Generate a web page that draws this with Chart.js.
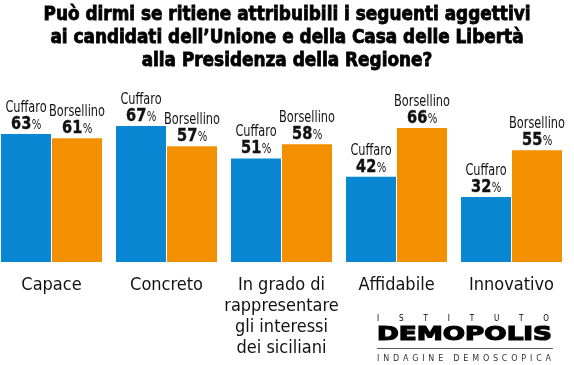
<!DOCTYPE html>
<html>
<head>
<meta charset="utf-8">
<script src="https://cdn.jsdelivr.net/npm/chart.js@4.4.1/dist/chart.umd.min.js"></script>
<style>
  html, body { margin: 0; padding: 0; background: #fff; overflow: hidden; }
  #wrap { position: absolute; left: -6px; top: 0; width: 580px; height: 365px; }
</style>
</head>
<body>
<div id="wrap"><canvas id="chart" width="580" height="365"></canvas></div>
<script>
const $ = document;

const categories = [
  "Capace",
  "Concreto",
  ["In grado di", "rappresentare", "gli interessi", "dei siciliani"],
  "Affidabile",
  "Innovativo",
];
const seriesNames = ["Cuffaro", "Borsellino"];
const cuffaroValues = [63, 67, 51, 42, 32];
const borsellinoValues = [61, 57, 58, 66, 55];
const titleLines = [
  "Può dirmi se ritiene attribuibili i seguenti aggettivi",
  "ai candidati dell’Unione e della Casa delle Libertà",
  "alla Presidenza della Regione?",
];

const NARROW = '"DejaVu Sans Condensed", "Liberation Sans Narrow", sans-serif';
const BLUE = "#0a87d2";
const ORANGE = "#f39000";

// spread characters evenly between x0 and x1
function spacedText(ctx, text, x0, x1, y) {
  const chars = text.split("");
  let total = 0;
  chars.forEach((c) => (total += ctx.measureText(c).width));
  const gap = (x1 - x0 - total) / (chars.length - 1);
  let x = x0;
  chars.forEach((c) => {
    ctx.fillText(c, x, y);
    x += ctx.measureText(c).width + gap;
  });
}

// text squeezed horizontally, centred on x
function narrowText(ctx, text, x, y, sx, stroke) {
  ctx.save();
  ctx.translate(x, y);
  ctx.scale(sx, 1);
  ctx.textAlign = "center";
  ctx.fillText(text, 0, 0);
  if (stroke) ctx.strokeText(text, 0, 0);
  ctx.restore();
}

const decorations = {
  id: "decorations",
  afterDatasetsDraw(chart) {
    const ctx = chart.ctx;
    ctx.save();
    ctx.fillStyle = "#111";
    ctx.strokeStyle = "#111";
    ctx.lineWidth = 0.4;
    ctx.textBaseline = "alphabetic";
    chart.data.datasets.forEach((ds, di) => {
      const meta = chart.getDatasetMeta(di);
      meta.data.forEach((bar, i) => {
        const x = bar.x;
        const top = bar.y;
        ctx.font = "15px " + NARROW;
        narrowText(ctx, ds.label, x, top - 22, 0.84);
        const num = String(ds.data[i]);
        ctx.font = "bold 17px " + NARROW;
        const w1 = ctx.measureText(num).width * 0.95;
        ctx.font = "14px " + NARROW;
        const w2 = ctx.measureText("%").width * 0.8;
        const start = x - (w1 + w2) / 2;
        ctx.font = "bold 17px " + NARROW;
        narrowText(ctx, num, start + w1 / 2, top - 5, 0.95, true);
        ctx.font = "14px " + NARROW;
        narrowText(ctx, "%", start + w1 + 0.5 + w2 / 2, top - 5, 0.8);
      });
    });
    ctx.restore();
  },
  afterDraw(chart) {
    const ctx = chart.ctx;
    const ox = 6; // canvas is shifted left by 6px
    ctx.save();
    // title
    ctx.fillStyle = "#000";
    ctx.strokeStyle = "#000";
    ctx.lineWidth = 0.8;
    ctx.textBaseline = "alphabetic";
    ctx.font = "bold 20px " + NARROW;
    const sx = 487 / ctx.measureText(titleLines[0]).width;
    titleLines.forEach((line, i) => {
      narrowText(ctx, line, 287 + ox, 20 + i * 23, sx, true);
    });
    // logo
    ctx.textAlign = "left";
    ctx.font = "8px " + NARROW;
    spacedText(ctx, "ISTITUTO", 377 + ox, 549 + ox, 321);
    ctx.font = "bold 19px 'DejaVu Sans'";
    ctx.lineWidth = 1.2;
    const wordW = ctx.measureText("DEMOPOLIS").width;
    ctx.save();
    ctx.translate(377 + ox, 340);
    ctx.scale(175 / wordW, 1);
    ctx.fillText("DEMOPOLIS", 0, 0);
    ctx.strokeText("DEMOPOLIS", 0, 0);
    ctx.restore();
    ctx.fillStyle = "#555";
    ctx.fillRect(377 + ox, 348, 176, 1);
    ctx.fillStyle = "#333";
    ctx.font = "8px 'DejaVu Sans'";
    spacedText(ctx, "INDAGINE DEMOSCOPICA", 377 + ox, 551 + ox, 361);
    ctx.restore();
  },
};

function buildChart() {
  const canvas = $.getElementById("chart");
  const data = {
    labels: categories,
    datasets: [
      {
        label: seriesNames[0],
        data: cuffaroValues,
        backgroundColor: BLUE,
      },
      {
        label: seriesNames[1],
        data: borsellinoValues,
        backgroundColor: ORANGE,
      },
    ],
  };
  const config = {
    type: "bar",
    data: data,
    options: {
      responsive: false,
      animation: false,
      layout: { padding: { top: 59, right: 5, left: 0, bottom: 0 } },
      datasets: {
        bar: { categoryPercentage: 102 / 115, barPercentage: 50 / 51 },
      },
      plugins: {
        legend: { display: false },
        tooltip: { enabled: false },
        title: { display: false },
      },
      scales: {
        x: {
          grid: { display: false },
          border: { display: false },
          ticks: {
            color: "#111",
            padding: 5,
            maxRotation: 0,
            autoSkip: false,
            font: { family: NARROW, size: 18, lineHeight: 1.17 },
          },
          afterFit(scale) {
            scale.height = 103;
          },
        },
        y: {
          display: false,
          min: 0,
          max: 100,
        },
      },
    },
    plugins: [decorations],
  };
  return new Chart(canvas, config);
}

buildChart();
</script>
</body>
</html>
